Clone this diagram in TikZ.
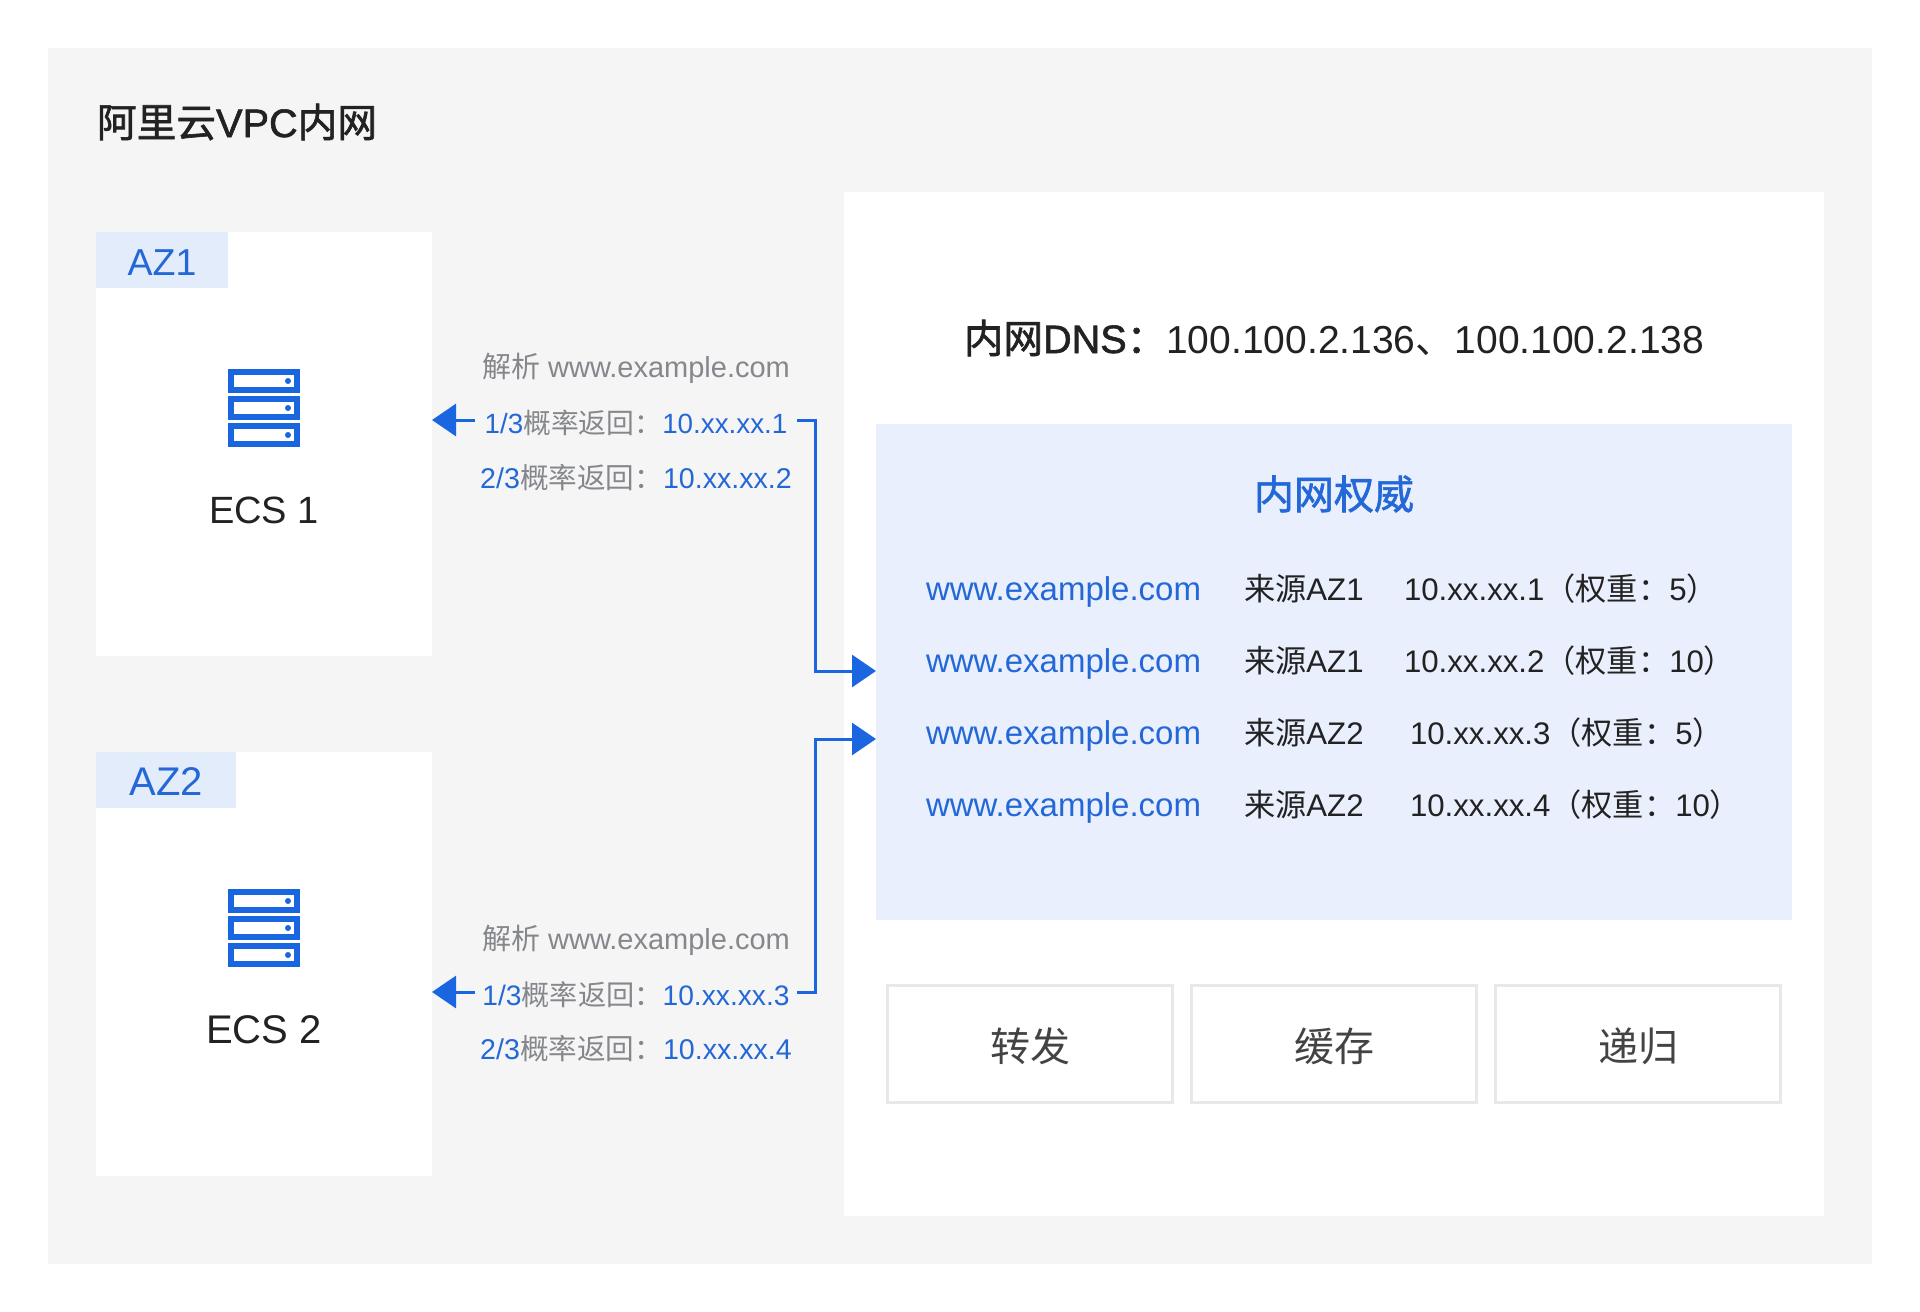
\documentclass[tikz,border=0pt]{standalone}
\usepackage{xcolor}
\usepackage{fontspec}
\usepackage{tikz}
\usetikzlibrary{positioning, arrows.meta}
\setmainfont{Liberation Sans}
\newfontfamily\cjk{Noto Sans CJK SC}
\newfontfamily\cjkmid[FakeBold=1.5]{Noto Sans CJK SC}
\newfontfamily\latinmid[FakeBold=1.5]{Liberation Sans}
\newcommand{\zh}[1]{{\cjk #1}}
\newcommand{\zhm}[1]{{\cjkmid #1}}
\newcommand{\fsize}[1]{\fontsize{#1}{#1}\selectfont}
\definecolor{azure}{HTML}{1A66E0}
\definecolor{azuretext}{HTML}{2468D8}
\definecolor{mist}{HTML}{F5F5F5}
\definecolor{panelblue}{HTML}{E9EFFC}
\definecolor{tagblue}{HTML}{E3ECFA}
\definecolor{ink}{HTML}{222222}
\definecolor{slate}{HTML}{85878C}
\definecolor{edgegrey}{HTML}{E8E8E8}

\begin{document}
\begin{tikzpicture}[
    x=1pt, y=-1pt,
    every node/.style={inner sep=0pt, outer sep=0pt, text=ink, align=center},
    block/.style={fill=#1, anchor=north west},
    card/.style={block=white, minimum width=336pt, minimum height=424pt},
    tag/.style={block=tagblue, minimum height=56pt, text=azuretext, text height=31pt, text depth=0pt},
    retlabel/.style={minimum width=322pt, text=slate, font=\fsize{28.6}},
    lowered/.style={text height=29pt, text depth=3pt},
    asklabel/.style={retlabel, font=\fsize{29}},
    urlcell/.style={anchor=west, text=azuretext, font=\fsize{33}},
    cell/.style={anchor=west, font=\fsize{31.2}},
    funcbox/.style={draw=edgegrey, line width=3pt, fill=white, minimum width=285pt, minimum height=117pt, text height=40pt, text depth=5pt, font=\fsize{40}\cjk, text=ink!85},
    link/.style={draw=azure, line width=3pt, -{Triangle[length=24pt, width=32pt]}},
    server/.pic={
        \foreach \i in {0,1,2} {
            \draw[draw=azure, fill=white, line width=6pt] (-33,{\i*27+3}) rectangle (33,{\i*27+21});
            \fill[azure] (24,{\i*27+12}) circle (3);
        }
    }
]
\useasboundingbox (0,0) rectangle (1920,1312);
\fill[white] (0,0) rectangle (1920,1312);

\node[block=mist, minimum width=1824pt, minimum height=1216pt] (vpc) at (48,48) {};
\node[anchor=west, font=\fsize{39.7}\latinmid] (vpctitle) at (97,122) {\zhm{阿里云}VPC\zhm{内网}};

% availability zones
\node[card] (cardA) at (96,232) {};
\node[card] (cardB) at (96,752) {};
\node[tag, minimum width=132pt, font=\fsize{37.5}] (tagA) at (cardA.north west) {AZ1};
\node[tag, minimum width=140pt, font=\fsize{40}] (tagB) at (cardB.north west) {AZ2};
\pic at (264,369) {server};
\pic at (264,889) {server};
\node[font=\fsize{38}] (ecsA) at (264,510) {ECS 1};
\node[font=\fsize{40}] (ecsB) at (264,1030) {ECS 2};

% dns side
\node[block=white, minimum width=980pt, minimum height=1024pt] (dns) at (844,192) {};
\node[font=\fsize{39}] (dnstitle) at (1334,338) {{\fsize{39.6}\latinmid\zhm{内网}DNS\zhm{：}}100.100.2.136\zh{、}100.100.2.138};
\node[block=panelblue, minimum width=916pt, minimum height=496pt] (panel) at (876,424) {};
\node[text=azuretext, font=\fsize{40}\cjkmid] (paneltitle) at (1334,494) {内网权威};

\foreach \row/\yy/\src/\ipx/\ip/\wt in {
    1/589/AZ1/1404/1/5,
    2/661/AZ1/1404/2/10,
    3/733/AZ2/1410/3/5,
    4/805/AZ2/1410/4/10} {
    \node[urlcell] (url\row) at (926,{\yy+3}) {www.example.com};
    \node[cell] (src\row) at (1244,\yy) {\zh{来源}\src};
    \node[cell] (ip\row) at (\ipx,\yy) {10.xx.xx.\ip\zh{（权重：}\wt\zh{）}};
}

\node[funcbox] (forward) at (1030,1044) {转发};
\node[funcbox, right=19pt of forward] (cache) {缓存};
\node[funcbox, right=19pt of cache] (recurse) {递归};

% resolve labels
\node[asklabel] (askA) at (636,368) {\zh{解析} www.example.com};
\node[retlabel, lowered, font=\fsize{27.8}, below=52pt of askA.center, anchor=center] (retA) {\textcolor{azuretext}{1/3}\zh{概率返回：}\textcolor{azuretext}{10.xx.xx.1}};
\node[retlabel, below=58pt of retA.center, anchor=center] (retB) {\textcolor{azuretext}{2/3}\zh{概率返回：}\textcolor{azuretext}{10.xx.xx.2}};
\node[asklabel] (askB) at (636,940) {\zh{解析} www.example.com};
\node[retlabel, lowered, font=\fsize{28.2}, below=52pt of askB.center, anchor=center] (retC) {\textcolor{azuretext}{1/3}\zh{概率返回：}\textcolor{azuretext}{10.xx.xx.3}};
\node[retlabel, below=57pt of retC.center, anchor=center] (retD) {\textcolor{azuretext}{2/3}\zh{概率返回：}\textcolor{azuretext}{10.xx.xx.4}};

% connectors
\coordinate (inA) at (876,671);
\coordinate (inB) at (876,739);
\draw[link] (retA.west) -- (cardA.east |- retA.west);
\draw[link] (retC.west) -- (cardB.east |- retC.west);
\draw[link] (retA.east) -- ++(18,0) |- (inA);
\draw[link] (retC.east) -- ++(18,0) |- (inB);
\end{tikzpicture}
\end{document}
